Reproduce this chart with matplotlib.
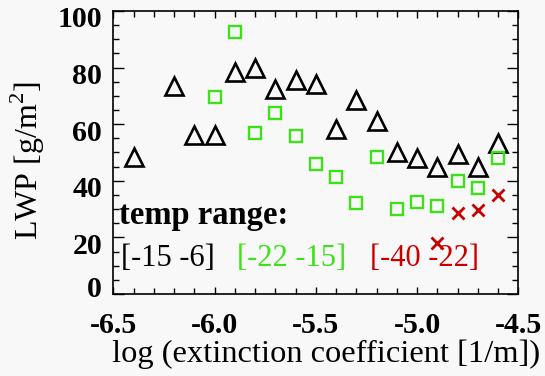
import matplotlib
matplotlib.use("Agg")
import matplotlib.pyplot as plt
from matplotlib.ticker import MultipleLocator, FormatStrFormatter
from matplotlib.transforms import ScaledTranslation

# Data: log(extinction coefficient) vs LWP, by temperature range
x_warm = [-6.4, -6.2, -6.1, -6.0, -5.9, -5.8, -5.7, -5.6, -5.5, -5.4, -5.3, -5.2, -5.1, -5.0, -4.9, -4.8, -4.7, -4.6]
y_warm = [48.3, 73.4, 56.1, 56.1, 78.4, 79.8, 72.5, 75.7, 74.3, 58.4, 68.4, 61.1, 50.2, 48.2, 44.9, 49.6, 44.7, 53.4]

x_mid = [-6.0, -5.9, -5.8, -5.7, -5.6, -5.5, -5.4, -5.3, -5.2, -5.1, -5.0, -4.9, -4.8, -4.7, -4.6]
y_mid = [69.6, 92.5, 56.7, 64.0, 55.7, 46.1, 41.2, 32.3, 48.4, 30.2, 32.6, 31.0, 40.0, 37.3, 48.1]

x_cold = [-4.9, -4.8, -4.7, -4.6]
y_cold = [18.1, 28.5, 29.6, 34.9]

legend_title = "temp range:"
range_labels = ["[-15 -6]", "[-22 -15]", "[-40 -22]"]
xlabel = "log (extinction coefficient [1/m])"
ylabel = "LWP [g/m$^2$]"

black = "#000000"
green = "#3ee01a"
red = "#c80000"

plt.rcParams['font.family'] = ['Liberation Serif', 'DejaVu Serif']
plt.rcParams['mathtext.fontset'] = 'custom'
plt.rcParams['mathtext.rm'] = 'Liberation Serif'

fig = plt.figure(figsize=(5.45, 3.76), dpi=100)
fig.patch.set_facecolor("#f8f8f8")
ax = fig.add_axes([0.208, 0.218, 0.743, 0.753])
ax.set_facecolor("#f8f8f8")

ax.plot(x_warm, y_warm, linestyle="none", marker="^", ms=13, mfc="none",
        mec=black, mew=1.9)
ax.plot(x_mid, y_mid, linestyle="none", marker="s", ms=8.6, mfc="none",
        mec=green, mew=1.7)
ax.plot(x_cold, y_cold, linestyle="none", marker="x", ms=8, mec=red, mew=2.0)

ax.set_xlim(-6.5, -4.5)
ax.set_ylim(0, 100)
ax.xaxis.set_major_locator(MultipleLocator(0.5))
ax.xaxis.set_minor_locator(MultipleLocator(0.1))
ax.yaxis.set_major_locator(MultipleLocator(20))
ax.yaxis.set_minor_locator(MultipleLocator(5))
ax.xaxis.set_major_formatter(FormatStrFormatter('%.1f'))

ax.tick_params(which="both", direction="in", top=True, right=True, width=1.0,
               labelsize=21.5)
ax.tick_params(axis="x", which="major", length=5, pad=13)
ax.tick_params(axis="x", which="minor", length=4)
ax.tick_params(axis="y", which="major", length=8, pad=8)
ax.tick_params(axis="y", which="minor", length=4.3)
for lab in ax.get_xticklabels() + ax.get_yticklabels():
    lab.set_fontweight("bold")
for s in ax.spines.values():
    s.set_linewidth(1.2)

# y tick labels sit slightly below their ticks (the bottom one above)
for tick in ax.yaxis.get_major_ticks():
    loc = tick.get_loc()
    dy = 7.5 if abs(loc) < 1e-9 else -6.0
    tick.label1.set_transform(tick.label1.get_transform()
                              + ScaledTranslation(0, dy / 100.0, fig.dpi_scale_trans))

ax.set_xlabel(xlabel, fontsize=23.4, labelpad=0)
ax.xaxis.label.set_x(0.525)
ax.set_ylabel(ylabel, fontsize=23, labelpad=8)
ax.yaxis.label.set_y(0.47)

ax.text(0.015, 0.279, legend_title, transform=ax.transAxes, fontsize=23.5,
        fontweight="bold", color=black, va="center", ha="left")
ax.text(0.02, 0.127, range_labels[0], transform=ax.transAxes, fontsize=22,
        color=black, va="center", ha="left")
ax.text(0.305, 0.127, range_labels[1], transform=ax.transAxes, fontsize=22,
        color=green, va="center", ha="left")
ax.text(0.634, 0.127, range_labels[2], transform=ax.transAxes, fontsize=22,
        color=red, va="center", ha="left")

fig.savefig("out.png", dpi=100, facecolor=fig.get_facecolor())
